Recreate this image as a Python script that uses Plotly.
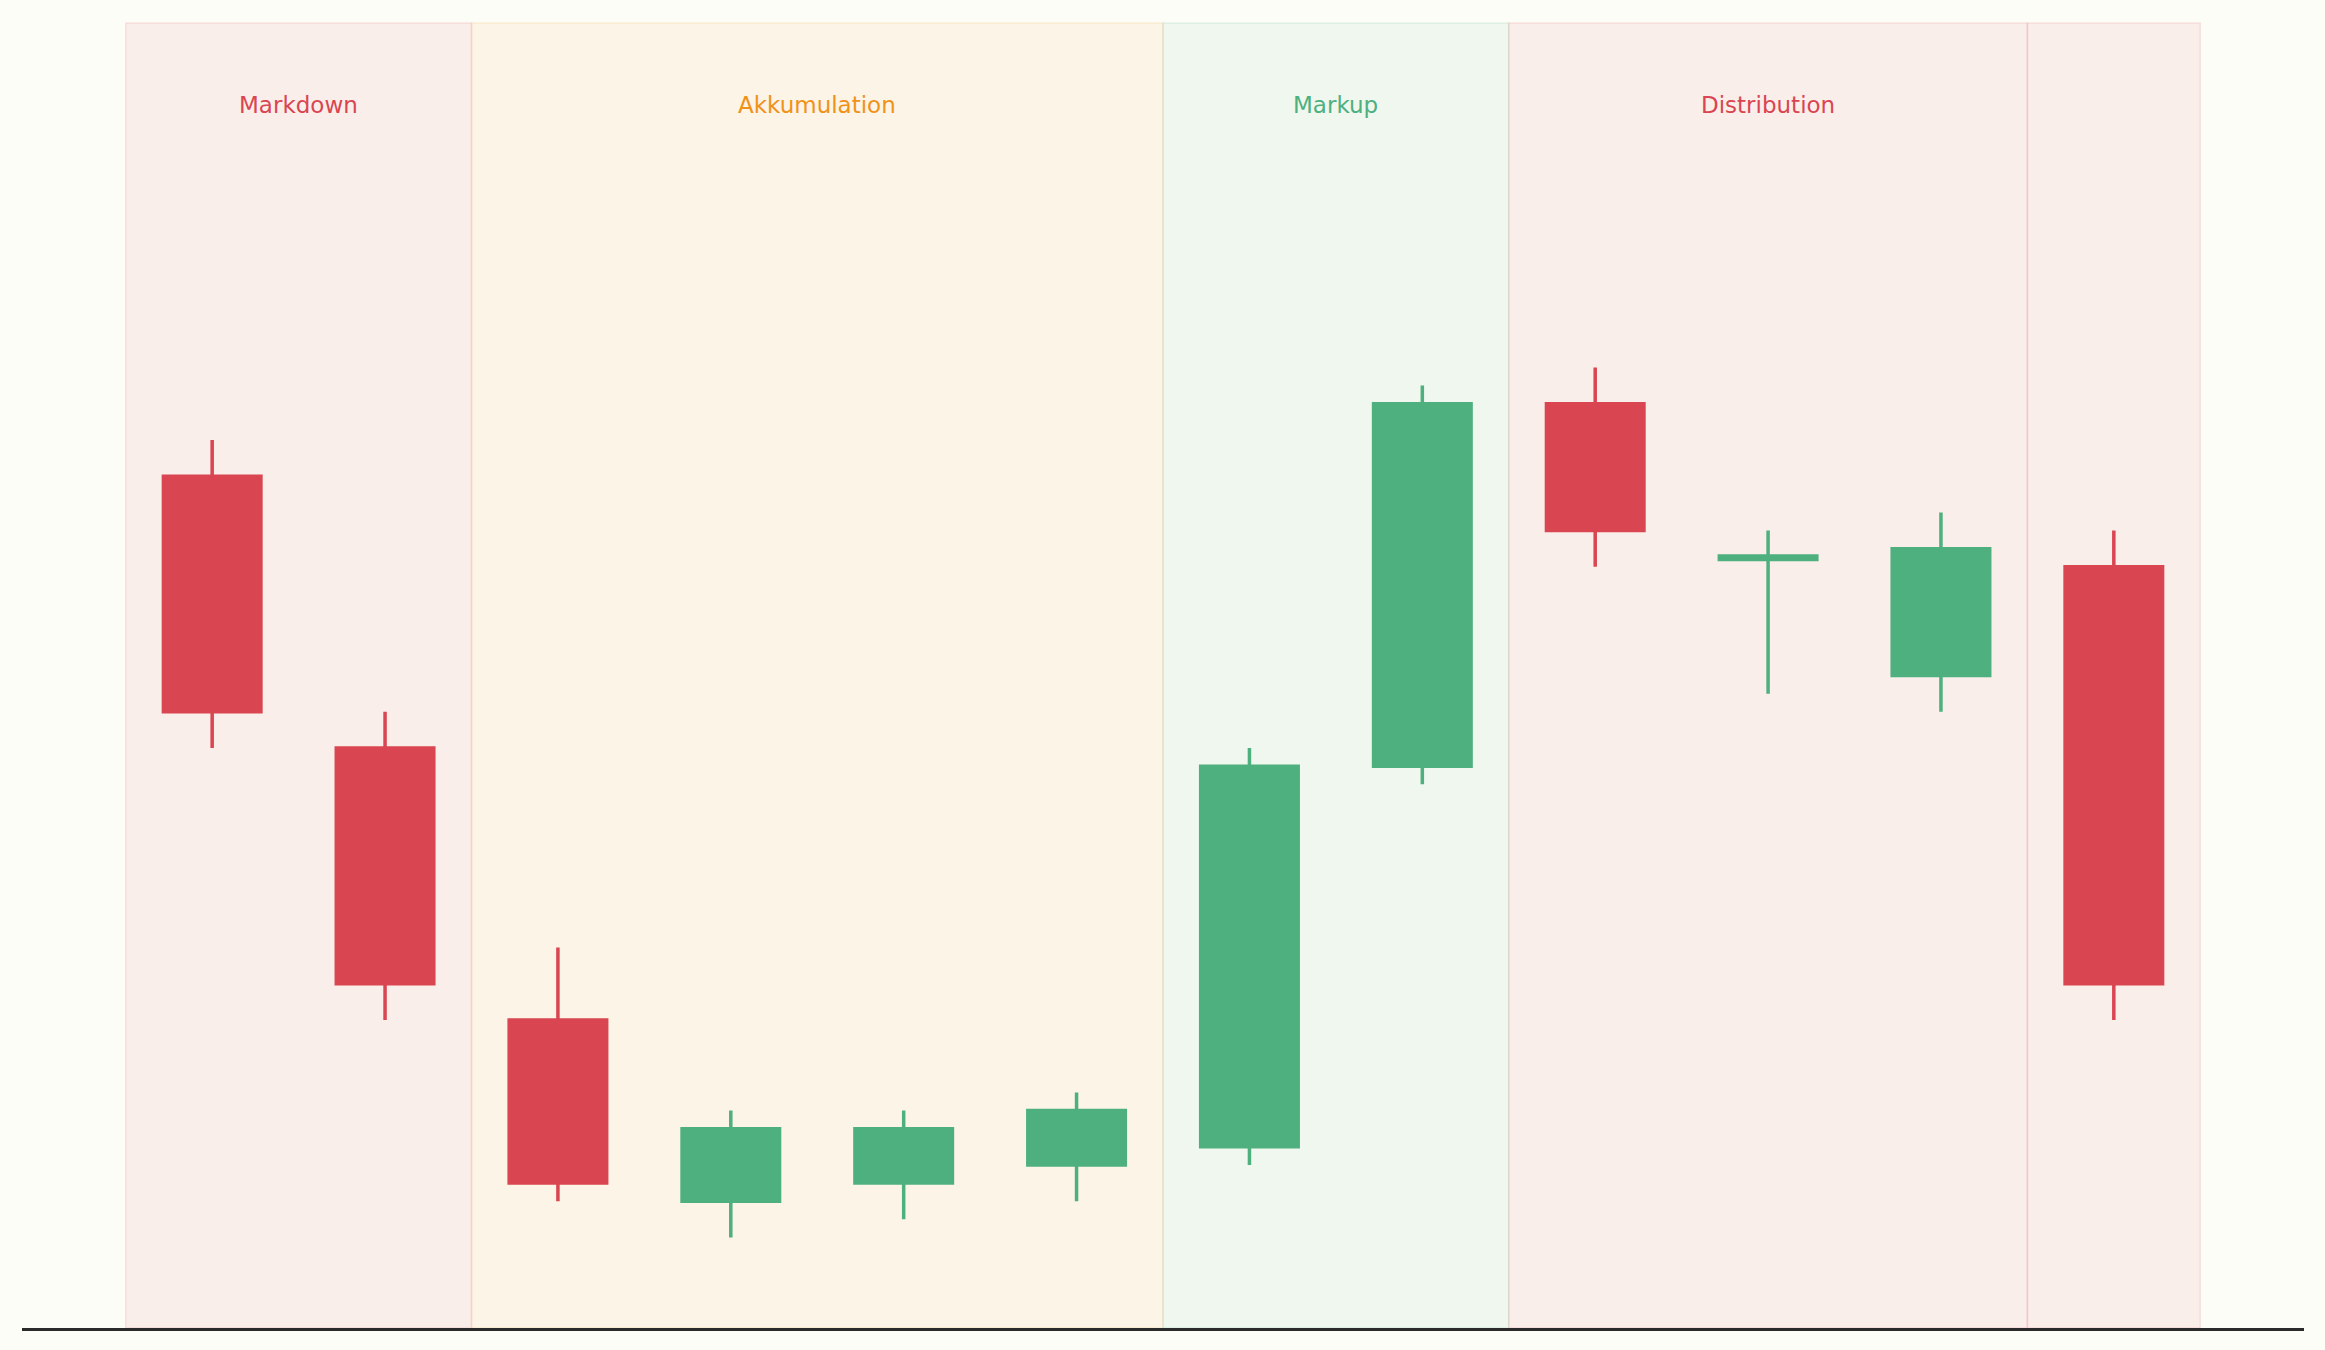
import plotly.graph_objects as go

# candle data (price units, axis starts at 0)
idx = list(range(12))
opens = [47, 32, 17, 7, 8, 9, 10, 31, 51, 42.4, 36, 42]
highs = [49, 34, 21, 12, 12, 13, 32, 52, 53, 44, 45, 44]
lows = [32, 17, 7, 5, 6, 7, 9, 30, 42, 35, 34, 17]
closes = [34, 19, 8, 11, 11, 12, 31, 51, 44, 42.6, 43, 19]

# market phases
phase_names = ["Markdown", "Akkumulation", "Markup", "Distribution", ""]
phase_start = [-0.5, 1.5, 5.5, 7.5, 10.5]
phase_end = [1.5, 5.5, 7.5, 10.5, 11.5]
phase_rgb = ["217,69,81", "240,146,26", "78,176,126", "217,69,81", "217,69,81"]

UP = "#4eb07e"
DOWN = "#d94551"
BG = "#fdfdf8"

fig = go.Figure()

for name, x0, x1, rgb in zip(phase_names, phase_start, phase_end, phase_rgb):
    fig.add_vrect(
        x0=x0, x1=x1,
        fillcolor=f"rgba({rgb},0.08)",
        line=dict(color=f"rgba({rgb},0.12)", width=1.5),
        layer="below",
    )
    if name:
        fig.add_annotation(
            x=(x0 + x1) / 2, y=0.937, xref="x", yref="paper",
            text=name, showarrow=False, yanchor="middle",
            font=dict(family="DejaVu Sans", size=23, color=f"rgb({rgb})"),
        )

fig.add_trace(go.Candlestick(
    x=idx, open=opens, high=highs, low=lows, close=closes,
    increasing=dict(line=dict(color=UP, width=3.5), fillcolor=UP),
    decreasing=dict(line=dict(color=DOWN, width=3.5), fillcolor=DOWN),
    whiskerwidth=0,
    showlegend=False,
))

fig.update_layout(
    width=2325, height=1350,
    margin=dict(l=22, r=21, t=23, b=22),
    paper_bgcolor=BG,
    plot_bgcolor=BG,
    boxgap=0.436,
    boxgroupgap=0,
    xaxis=dict(
        range=[-1.1, 12.1],
        showgrid=False, zeroline=False, showticklabels=False, ticks="",
        showline=True, linecolor="#2a2a2a", linewidth=2.5,
        rangeslider=dict(visible=False),
    ),
    yaxis=dict(
        range=[0, 72],
        showgrid=False, zeroline=False, showticklabels=False, ticks="",
        showline=False,
    ),
)

# drop the default page margin so the figure sits at the window corner
fig.write_html(
    "out.html",
    config={"displayModeBar": False},
    post_script=f"document.body.style.margin='0';document.body.style.background='{BG}';",
)
